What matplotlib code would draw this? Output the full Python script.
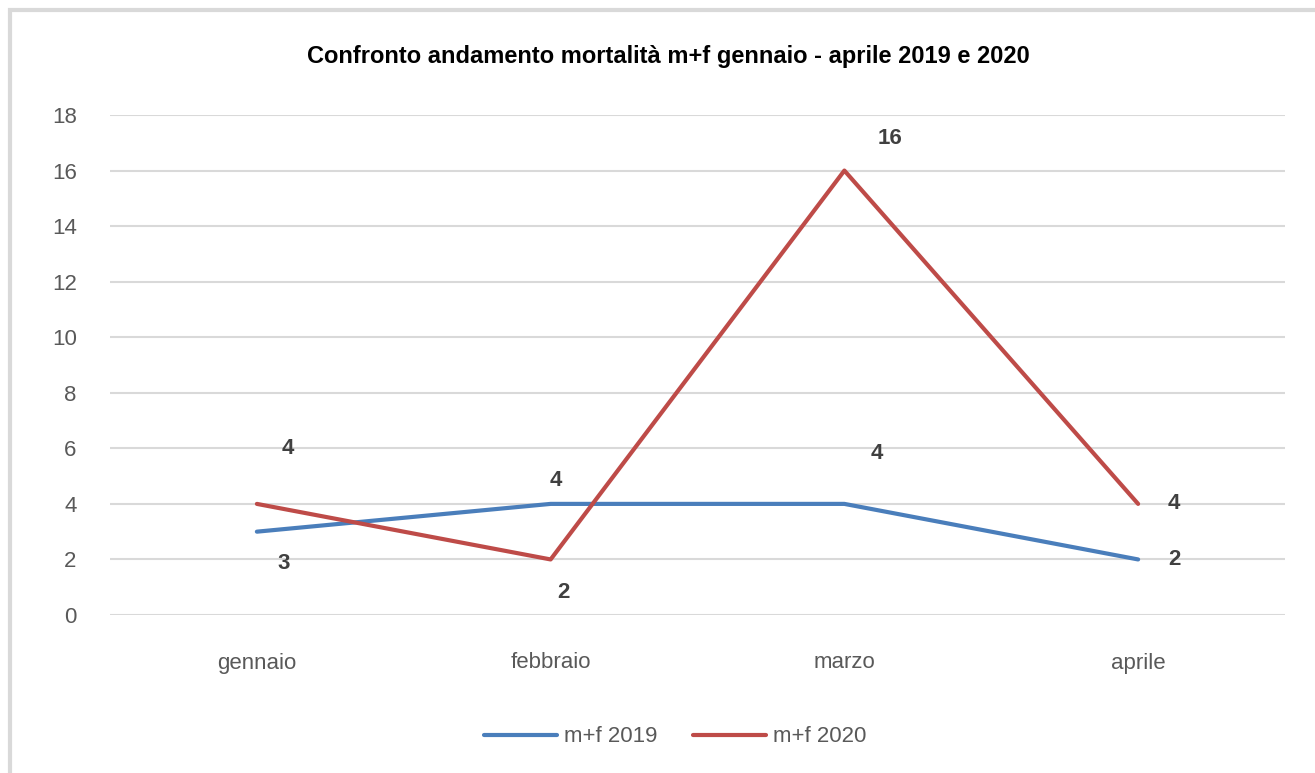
import matplotlib
matplotlib.use("Agg")
import matplotlib.pyplot as plt
from matplotlib.patches import Rectangle

plt.rcParams['font.family'] = ['Liberation Sans', 'DejaVu Sans']

months = ["gennaio", "febbraio", "marzo", "aprile"]
mf_2019 = [3, 4, 4, 2]
mf_2020 = [4, 2, 16, 4]
yticks = [0, 2, 4, 6, 8, 10, 12, 14, 16, 18]

# label offsets in points (dx, dy)
off_2019 = [(19, -23), (4, 17), (23, 36), (26, 0)]
off_2020 = [(22, 40), (9, -24), (33, 23), (26, 0)]

blue = "#4a7ebb"
red = "#be4b48"
W, H = 1315, 773

fig = plt.figure(figsize=(W / 100, H / 100), dpi=100)
fig.patches.append(Rectangle((10 / W, -0.05), 1.2, 1 - 10 / H + 0.05,
                             transform=fig.transFigure, fill=False,
                             edgecolor="#d9d9d9", linewidth=3))
ax = fig.add_axes([110 / W, 1 - 615 / H, (1285 - 110) / W, 500 / H])

x = list(range(len(months)))
ax.plot(x, mf_2019, color=blue, lw=3, label="m+f 2019", solid_capstyle="round")
ax.plot(x, mf_2020, color=red, lw=3, label="m+f 2020", solid_capstyle="round")

for xi, v, (dx, dy) in zip(x, mf_2019, off_2019):
    ax.annotate(str(v), (xi, v), xytext=(dx, dy), textcoords="offset points",
                ha="center", va="center", fontsize=16, fontweight="bold", color="#404040")
for xi, v, (dx, dy) in zip(x, mf_2020, off_2020):
    ax.annotate(str(v), (xi, v), xytext=(dx, dy), textcoords="offset points",
                ha="center", va="center", fontsize=16, fontweight="bold", color="#404040")

ax.set_xlim(-0.5, 3.5)
ax.set_ylim(0, 18)
ax.set_yticks(yticks)
ax.set_xticks(x)
ax.set_xticklabels(months)
ax.grid(axis="y", color="#d9d9d9", lw=1.5)
ax.set_axisbelow(True)
for s in ax.spines.values():
    s.set_visible(False)
ax.tick_params(axis="both", length=0, labelsize=16, labelcolor="#595959")
ax.tick_params(axis="y", pad=24)
ax.tick_params(axis="x", pad=27)

fig.text(668 / W, 1 - 57 / H, "Confronto andamento mortalità m+f gennaio - aprile 2019 e 2020",
         ha="center", va="center", fontsize=17, fontweight="bold", color="black")

fig.legend(loc="center", bbox_to_anchor=(675 / W, 1 - 737 / H), ncol=2, frameon=False,
           fontsize=16, labelcolor="#595959", handlelength=3.3, columnspacing=1.6,
           handletextpad=0.3)

fig.savefig("out.png", dpi=100)
